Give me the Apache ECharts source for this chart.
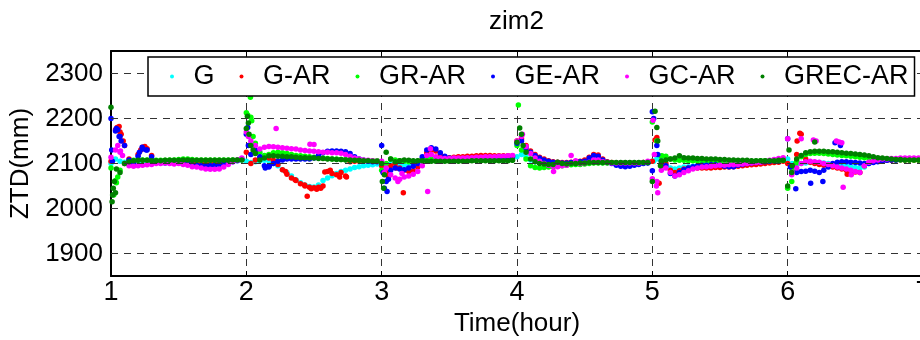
<!DOCTYPE html>
<html>
<head>
<meta charset="utf-8">
<script src="https://cdn.jsdelivr.net/npm/echarts@6/dist/echarts.min.js"></script>
<style>
html,body{margin:0;padding:0;background:#fff;overflow:hidden;}
#chart{width:940px;height:340px;}
</style>
</head>
<body>
<div id="chart"></div>
<script>
// ---- data (sampled every 2 minutes, t = 1 h .. 7 h) ----
const seriesNames = ['G', 'G-AR', 'GR-AR', 'GE-AR', 'GC-AR', 'GREC-AR'];
const xTicks = [1, 2, 3, 4, 5, 6, 7];
const yTicks = [1900, 2000, 2100, 2200, 2300];
const samplesPerHour = 30;

const G = [
 2100,2110,2105,2103,2102,2103,2104,2105,2106,2105,2104,2104,2104,2104,2104,2104,2103,2103,2103,2102,2102,2102,2102,2103,2103,2104,2105,2106,2107,2108,
 2105,2102,2104,2106,2107,2106,2100,2095,2086,2080,2072,2064,2057,2052,2049,2048,2052,2062,2068,2073,2078,2082,2085,2088,2091,2093,2095,2096,2097,2099,
 2095,2098,2100,2102,2098,2095,2096,2100,2105,2110,2112,2112,2111,2111,2111,2111,2112,2112,2112,2113,2113,2113,2114,2114,2114,2115,2115,2115,2116,2116,
 2115,2120,2115,2108,2104,2102,2101,2100,2100,2100,2100,2100,2101,2101,2102,2102,2103,2103,2103,2102,2102,2101,2101,2101,2101,2101,2101,2101,2101,2102,
 2105,2110,2100,2095,2090,2088,2090,2092,2093,2094,2095,2096,2096,2096,2097,2097,2098,2098,2099,2099,2100,2100,2101,2102,2103,2104,2106,2108,2109,2110,
 2110,2100,2098,2100,2101,2102,2102,2102,2101,2100,2099,2098,2097,2095,2093,2091,2090,2092,2100,2104,2106,2107,2108,2108,2109,2109,2109,2110,2110,2110,
 2110];
const G_AR = [
 2105,2175,2170,2140,2110,2102,2120,2136,2133,2118,2104,2103,2103,2103,2103,2103,2103,2102,2102,2101,2101,2101,2101,2102,2102,2103,2104,2105,2107,2109,
 2125,2100,2108,2112,2115,2112,2107,2098,2086,2076,2068,2062,2055,2050,2047,2046,2047,2050,2082,2078,2075,2080,2072,2104,2105,2105,2105,2105,2105,2105,
 2095,2080,2095,2100,2090,2085,2082,2084,2092,2110,2124,2130,2128,2120,2114,2113,2114,2115,2115,2116,2116,2117,2118,2118,2118,2117,2117,2117,2117,2117,
 2150,2155,2140,2128,2120,2114,2110,2106,2104,2103,2102,2102,2103,2104,2105,2108,2114,2120,2119,2110,2104,2102,2101,2101,2101,2101,2101,2101,2102,2102,
 2105,2158,2095,2100,2085,2080,2084,2088,2090,2090,2090,2090,2090,2090,2091,2091,2092,2092,2093,2094,2095,2096,2097,2098,2099,2100,2101,2102,2103,2105,
 2100,2095,2120,2165,2110,2103,2100,2098,2096,2094,2092,2090,2088,2085,2083,2081,2080,2095,2102,2104,2105,2106,2107,2107,2108,2108,2108,2108,2108,2108,
 2109];
const GR_AR = [
 2090,2062,2085,2100,2105,2107,2108,2108,2108,2108,2107,2107,2107,2108,2108,2109,2110,2110,2109,2108,2108,2108,2108,2108,2108,2108,2108,2108,2108,2109,
 2213,2203,2145,2125,2118,2120,2124,2125,2124,2122,2120,2118,2117,2116,2115,2114,2113,2112,2111,2110,2110,2109,2109,2108,2108,2107,2107,2106,2106,2106,
 2085,2100,2110,2108,2106,2105,2104,2104,2105,2108,2110,2109,2108,2107,2107,2107,2107,2107,2107,2107,2107,2107,2107,2107,2107,2107,2107,2107,2108,2108,
 2140,2130,2110,2095,2091,2090,2091,2092,2093,2094,2095,2096,2097,2098,2098,2099,2100,2101,2101,2101,2101,2101,2101,2101,2101,2101,2101,2101,2101,2102,
 2192,2150,2115,2116,2110,2108,2107,2107,2106,2106,2106,2105,2105,2105,2105,2105,2105,2105,2105,2105,2105,2105,2105,2105,2106,2106,2106,2106,2107,2107,
 2045,2085,2105,2115,2120,2122,2123,2123,2122,2121,2120,2119,2118,2117,2116,2115,2114,2113,2112,2111,2110,2110,2109,2109,2108,2108,2108,2108,2108,2108,
 2108];
const GE_AR = [
 2200,2172,2160,2140,2108,2100,2116,2132,2130,2115,2102,2101,2101,2101,2102,2101,2100,2099,2097,2096,2095,2094,2095,2096,2098,2100,2102,2104,2106,2110,
 2165,2120,2130,2115,2095,2092,2100,2105,2108,2110,2110,2110,2110,2110,2110,2112,2118,2124,2127,2128,2128,2127,2126,2122,2115,2110,2107,2105,2104,2104,
 2140,2060,2085,2090,2088,2086,2090,2094,2100,2115,2130,2135,2132,2124,2116,2112,2110,2110,2110,2111,2111,2111,2112,2112,2112,2113,2113,2114,2114,2115,
 2145,2150,2135,2125,2118,2112,2108,2105,2103,2102,2101,2101,2102,2103,2104,2105,2112,2118,2116,2108,2103,2100,2096,2094,2093,2094,2096,2098,2100,2101,
 2215,2140,2105,2095,2078,2072,2080,2086,2090,2093,2095,2096,2096,2097,2097,2096,2094,2093,2093,2096,2098,2100,2101,2102,2103,2104,2105,2106,2108,2110,
 2155,2095,2080,2082,2083,2085,2083,2080,2085,2092,2100,2103,2104,2104,2103,2102,2101,2100,2100,2102,2104,2106,2107,2108,2108,2109,2109,2110,2110,2110,
 2110];
const GC_AR = [
 2114,2130,2125,2100,2095,2094,2095,2096,2097,2098,2100,2100,2101,2100,2099,2100,2098,2096,2093,2092,2090,2088,2087,2087,2088,2092,2098,2104,2108,2112,
 2170,2150,2140,2132,2136,2138,2137,2136,2135,2134,2133,2132,2130,2129,2128,2127,2126,2125,2125,2124,2124,2123,2120,2116,2112,2110,2108,2107,2106,2105,
 2105,2090,2075,2068,2065,2070,2072,2076,2082,2095,2118,2120,2115,2112,2111,2111,2112,2112,2112,2113,2113,2114,2114,2115,2115,2115,2116,2116,2117,2118,
 2150,2160,2138,2122,2112,2105,2100,2096,2094,2093,2095,2096,2118,2106,2100,2101,2103,2108,2108,2104,2102,2101,2101,2101,2101,2101,2101,2101,2102,2105,
 2066,2060,2085,2090,2080,2072,2075,2080,2084,2088,2090,2092,2093,2094,2095,2096,2096,2097,2097,2098,2099,2100,2101,2102,2103,2105,2107,2109,2111,2113,
 2155,2080,2090,2100,2104,2105,2104,2103,2100,2098,2095,2092,2090,2088,2085,2082,2080,2095,2103,2106,2108,2110,2110,2111,2111,2112,2112,2112,2112,2112,
 2113];
const GREC_AR = [
 2225,2035,2080,2100,2104,2106,2107,2107,2107,2106,2106,2106,2107,2107,2107,2107,2108,2108,2107,2107,2107,2107,2107,2107,2107,2107,2107,2108,2108,2108,
 2178,2140,2122,2108,2112,2117,2117,2116,2116,2115,2115,2114,2113,2113,2112,2112,2111,2111,2110,2110,2109,2109,2108,2108,2107,2107,2106,2106,2105,2105,
 2100,2125,2110,2104,2106,2108,2107,2106,2106,2106,2105,2105,2105,2105,2105,2105,2105,2105,2105,2105,2106,2106,2106,2106,2106,2106,2106,2106,2106,2107,
 2147,2165,2125,2110,2104,2100,2099,2098,2098,2103,2100,2099,2100,2100,2101,2101,2102,2102,2102,2102,2102,2102,2102,2102,2102,2102,2102,2102,2102,2102,
 2060,2180,2105,2108,2110,2112,2117,2113,2112,2112,2111,2111,2110,2110,2110,2109,2109,2108,2108,2107,2107,2107,2106,2106,2106,2106,2106,2106,2107,2107,
 2050,2095,2110,2118,2124,2126,2127,2127,2127,2126,2126,2125,2124,2123,2122,2121,2120,2119,2117,2115,2113,2112,2111,2110,2109,2109,2108,2108,2108,2108,
 2108];

// extra scattered epochs during re-convergence, [hour, ZTD]
const G_extra = [[3.01,2092],[5.01,2105]];
const G_AR_extra = [[1.045,2180],[1.06,2182],[1.075,2165],[1.09,2150],[1.22,2130],[1.25,2138],[2.45,2027],[2.48,2044],[2.52,2043],[2.55,2045],[2.58,2081],[2.62,2085],[2.69,2070],[2.74,2070],[2.43,2052],[2.36,2064],[2.29,2082],[3.16,2035],[3.05,2070],[3.11,2090],[5.05,2056],[5.02,2152],[6.09,2167],[6.07,2150],[6.44,2076],[6.47,2078]];
const GR_AR_extra = [[1.02,2030],[1.04,2057],[1.05,2070],[2.01,2208],[2.03,2247],[2.04,2195],[2.05,2160],[4.01,2230],[6.03,2060],[6.06,2100],[5.07,2117]];
const GE_AR_extra = [[1.005,2130],[1.01,2105],[1.04,2178],[1.05,2175],[1.06,2160],[1.075,2150],[1.21,2125],[1.23,2136],[1.26,2130],[2.01,2180],[2.015,2140],[2.14,2090],[2.17,2095],[3.01,2080],[3.02,2045],[3.04,2038],[3.05,2065],[5.0,2084],[5.01,2200],[5.04,2120],[6.02,2092],[6.06,2044],[6.17,2056],[6.26,2060],[6.35,2146],[6.39,2140]];
const GC_AR_extra = [[1.05,2140],[1.07,2128],[1.085,2118],[2.015,2160],[2.22,2178],[2.47,2143],[2.5,2142],[3.02,2080],[3.12,2060],[3.15,2078],[3.34,2038],[3.36,2133],[4.04,2165],[4.27,2082],[5.005,2196],[5.015,2120],[5.03,2050],[5.04,2035],[6.03,2075],[6.1,2155],[6.19,2152],[6.21,2150],[6.36,2150],[6.38,2148],[6.4,2146],[6.41,2047],[6.47,2075]];
const GREC_AR_extra = [[1.008,2015],[1.012,2030],[1.017,2045],[1.025,2060],[1.04,2088],[2.008,2205],[2.015,2190],[2.02,2165],[2.05,2130],[3.005,2060],[3.015,2045],[3.02,2075],[4.02,2179],[4.045,2140],[5.02,2216],[5.04,2150],[5.06,2095],[6.01,2130],[6.03,2080],[6.2,2148]];

const seriesValues = [G, G_AR, GR_AR, GE_AR, GC_AR, GREC_AR];
const seriesExtras = [G_extra, G_AR_extra, GR_AR_extra, GE_AR_extra, GC_AR_extra, GREC_AR_extra];
const colors = ['#00FFFF', '#FF0000', '#00FF00', '#0000FF', '#FF00FF', '#008000'];

const FONT = "'Liberation Sans', Arial, Helvetica, sans-serif";
const gridDash = [7, 6];

function toPoints(vals, extra) {
  const pts = vals.map((v, i) => [xTicks[0] + i / samplesPerHour, v]);
  return pts.concat(extra);
}

const series = [{
  type: 'line', name: '_grid', data: [], z: 1, silent: true,
  markLine: {
    silent: true, symbol: 'none', animation: false,
    label: { show: false },
    lineStyle: { type: gridDash, color: '#333', width: 1 },
    data: yTicks.map(v => ({ yAxis: v }))
  }
}];
seriesNames.forEach((name, k) => {
  series.push({
    type: 'scatter', name: name, data: toPoints(seriesValues[k], seriesExtras[k]),
    symbol: 'circle', symbolSize: 5.5, clip: false, z: 3,
    itemStyle: { color: colors[k], opacity: 1 }
  });
});

const chart = echarts.init(document.getElementById('chart'), null, { renderer: 'canvas' });
chart.setOption({
  animation: false,
  backgroundColor: '#fff',
  title: {
    text: 'zim2', left: 489, top: 9, padding: 0,
    textStyle: { fontFamily: FONT, fontSize: 26, fontWeight: 'normal', color: '#000' }
  },
  legend: {
    data: seriesNames, left: 148, top: 57, orient: 'horizontal',
    icon: 'circle', itemWidth: 33, itemHeight: 4, itemGap: 25,
    padding: [6, 6, 6, 22], borderColor: '#000', borderWidth: 1.5, backgroundColor: '#fff',
    textStyle: { fontFamily: FONT, fontSize: 27, color: '#000' },
    z: 10
  },
  grid: { left: 111, right: 17, top: 51, bottom: 64, containLabel: false, outerBoundsMode: 'none' },
  xAxis: [{
    type: 'value', min: 1, max: 7, interval: 1, position: 'bottom',
    name: 'Time(hour)', nameLocation: 'middle', nameGap: 29,
    nameTextStyle: { fontFamily: FONT, fontSize: 26, color: '#000' },
    axisLine: { show: true, onZero: false, lineStyle: { color: '#000', width: 2 } },
    axisTick: { show: true, inside: true, length: 5, lineStyle: { color: '#000', width: 1 } },
    axisLabel: { fontFamily: FONT, fontSize: 27, color: '#000', margin: 3, showMinLabel: true, showMaxLabel: true, hideOverlap: false, formatter: v => String(v) },
    splitLine: { show: true, lineStyle: { type: gridDash, color: '#333', width: 1 } }
  }, {
    type: 'value', min: 1, max: 7, interval: 1, position: 'top',
    axisLine: { show: true, onZero: false, lineStyle: { color: '#000', width: 2 } },
    axisTick: { show: true, inside: true, length: 5, lineStyle: { color: '#000', width: 1 } },
    axisLabel: { show: false }, splitLine: { show: false }
  }],
  yAxis: [{
    type: 'value', min: 1850, max: 2350, position: 'left',
    name: 'ZTD(mm)', nameLocation: 'middle', nameGap: 69,
    nameTextStyle: { fontFamily: FONT, fontSize: 26, color: '#000' },
    axisLine: { show: true, onZero: false, lineStyle: { color: '#000', width: 2 } },
    axisTick: { show: true, inside: true, length: 5, customValues: yTicks, lineStyle: { color: '#000', width: 1 } },
    axisLabel: { fontFamily: FONT, fontSize: 26, color: '#000', margin: 8, customValues: yTicks, formatter: v => String(v) },
    splitLine: { show: false }
  }, {
    type: 'value', min: 1850, max: 2350, position: 'right',
    axisLine: { show: true, onZero: false, lineStyle: { color: '#000', width: 2 } },
    axisTick: { show: true, inside: true, length: 5, customValues: yTicks },
    axisLabel: { show: false }, splitLine: { show: false }
  }],
  series: series
});
</script>
</body>
</html>
